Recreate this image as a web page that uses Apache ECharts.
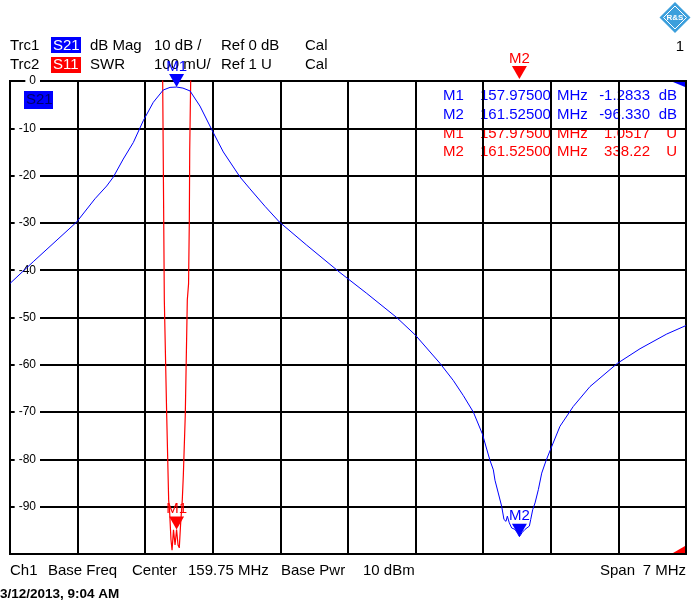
<!DOCTYPE html>
<html>
<head>
<meta charset="utf-8">
<title>Trc1 S21 / Trc2 S11</title>
<script src="https://cdn.jsdelivr.net/npm/echarts@6/dist/echarts.min.js"></script>
<style>
  html, body { margin: 0; padding: 0; background: #fff; }
  #chart { width: 693px; height: 611px; }
</style>
</head>
<body>
<div id="chart"></div>
<script>
var FONT = "'Liberation Sans', Arial, sans-serif";
var BLUE = '#0000ff';
var RED = '#ff0000';

// sweep
var centerMHz = 159.75;
var spanMHz = 7;
var startMHz = centerMHz - spanMHz / 2;

// Trc1  S21  dB Mag
var s21Freq = [156.250, 156.491, 156.716, 156.941, 157.130, 157.251, 157.320, 157.423, 157.527, 157.630,
               157.734, 157.837, 157.907, 157.975, 158.041, 158.114, 158.217, 158.342, 158.459, 158.632,
               158.735, 158.891, 159.039, 159.322, 159.667, 159.944, 160.254, 160.447, 160.703, 160.840,
               160.944, 161.048, 161.141, 161.220, 161.255, 161.272, 161.306, 161.341, 161.365, 161.386,
               161.400, 161.420, 161.445, 161.479, 161.505, 161.525, 161.552, 161.583, 161.628, 161.642,
               161.663, 161.687, 161.721, 161.756, 161.800, 161.845, 161.945, 162.083, 162.256, 162.539,
               162.774, 163.050, 163.250];
var s21Db = [-42.8, -38.2, -34.0, -29.8, -24.9, -22.2, -20.3, -16.5, -13.0, -8.4,
             -4.5, -1.9, -1.35, -1.28, -1.5, -2.1, -5.3, -10.4, -15.0, -20.3,
             -22.8, -26.5, -29.8, -34.7, -40.5, -44.9, -50.0, -53.7, -59.7, -63.3,
             -66.5, -70.0, -74.6, -80.2, -82.2, -84.4, -87.1, -89.9, -92.7, -93.1,
             -92.0, -93.4, -94.5, -94.8, -95.6, -96.33, -95.5, -94.8, -94.1, -92.7,
             -90.6, -89.2, -86.4, -82.9, -80.3, -78.0, -73.0, -68.8, -64.6, -59.7,
             -56.6, -53.5, -51.7];

// Trc2  S11  SWR
var s11Freq = [156.250, 156.900, 157.500, 157.780, 157.831, 157.848, 157.873, 157.893, 157.902, 157.917,
               157.928, 157.943, 157.959, 157.975, 157.990, 158.003, 158.016, 158.034, 158.045, 158.065,
               158.086, 158.099, 158.107, 158.111, 158.121, 158.170, 158.600, 159.500, 160.500, 161.525,
               162.500, 163.250];
var s11Swr = [95, 40, 9, 3.6, 2.0, 1.537, 1.290, 1.114, 1.093, 1.030,
              1.008, 1.051, 1.019, 1.0517, 1.019, 1.013, 1.061, 1.114, 1.167, 1.294,
              1.537, 1.571, 1.706, 1.854, 2.0, 3.6, 30, 150, 260, 338.22,
              280, 200];

// markers
var markerNames = ['M1', 'M2'];
var markerFreq = [157.975, 161.525];
var markerS21 = [-1.2833, -96.330];
var markerS11 = [1.0517, 338.22];

// scales
var dbMin = -100, dbMax = 0, dbStep = 10;
var swrMin = 1, swrMax = 2;

function kHz(f) { return Math.round((f - startMHz) * 1e6) / 1e3; }

function pairs(fs, vs) {
  return fs.map(function (f, i) { return [kHz(f), vs[i]]; });
}

function markers(values, color, top) {
  return {
    symbol: 'path://M0,0L16,0L8,14Z',
    symbolSize: [15, 13],
    label: { show: true, position: 'top', distance: 0, color: color, fontSize: 15, fontFamily: FONT, formatter: '{b}' },
    itemStyle: { color: color },
    data: markerNames.map(function (n, i) {
      var off = values[i] > top ? -8.5 : -6.5;
      return { name: n, coord: [kHz(markerFreq[i]), Math.min(values[i], top)], symbolOffset: [0, off] };
    })
  };
}

function txt(x, y, s, color, size, align, weight) {
  return {
    type: 'text', z: -1,
    style: {
      x: x, y: y, text: s, fill: color,
      font: (weight || 'normal') + ' ' + size + 'px ' + FONT,
      align: align || 'left', verticalAlign: 'middle',
      textAlign: align || 'left', textVerticalAlign: 'middle'
    }
  };
}
function box(x, y, w, h, color) {
  return { type: 'rect', z: -2, shape: { x: x, y: y, width: w, height: h }, style: { fill: color } };
}
function tri(points, color) {
  return { type: 'polygon', z: 5, shape: { points: points }, style: { fill: color } };
}

// marker table text
var tableRows = [];
markerNames.forEach(function (n, i) {
  tableRows.push([n, markerFreq[i].toFixed(5), markerS21[i].toPrecision(5), 'dB', BLUE]);
});
markerNames.forEach(function (n, i) {
  tableRows.push([n, markerFreq[i].toFixed(5), markerS11[i].toPrecision(5), 'U', RED]);
});
var tableY = [96, 114.5, 133.5, 152];

var graphics = [
  // header
  txt(10, 46, 'Trc1', '#000', 15), box(51, 37, 30, 16, BLUE), txt(53, 46, 'S21', '#fff', 15),
  txt(90, 46, 'dB Mag', '#000', 15), txt(154, 46, '10 dB /', '#000', 15),
  txt(221, 46, 'Ref 0 dB', '#000', 15), txt(305, 46, 'Cal', '#000', 15),
  txt(10, 65, 'Trc2', '#000', 15), box(51, 57, 30, 16, RED), txt(53, 65, 'S11', '#fff', 15),
  txt(90, 65, 'SWR', '#000', 15), txt(154, 65, '100 mU/', '#000', 15),
  txt(221, 65, 'Ref 1 U', '#000', 15), txt(305, 65, 'Cal', '#000', 15),
  txt(684, 47, '1', '#000', 15, 'right'),
  // logo
  { type: 'polygon', z: 5, shape: { points: [[675, 2], [690.5, 17.5], [675, 33], [659.5, 17.5]] }, style: { fill: '#3c9fdc' } },
  { type: 'polygon', z: 5, shape: { points: [[675, 6], [686.5, 17.5], [675, 29], [663.5, 17.5]] }, style: { fill: 'none', stroke: '#fff', lineWidth: 1 } },
  { type: 'text', z: 6, style: { x: 675, y: 18, text: 'R&S', fill: '#fff', font: 'bold 8px ' + FONT, align: 'center', verticalAlign: 'middle', textAlign: 'center', textVerticalAlign: 'middle' } },
  // trace label in grid
  box(24, 91, 29, 18, BLUE), txt(26, 100, 'S21', '#00006a', 15),
  // corner indicators
  tri([[673, 82], [685, 82], [685, 87]], BLUE),
  tri([[673, 553], [685, 553], [685, 546]], RED),
  // footer
  txt(10, 571, 'Ch1', '#000', 15), txt(48, 571, 'Base Freq', '#000', 15),
  txt(132, 571, 'Center', '#000', 15), txt(188, 571, centerMHz.toFixed(2) + ' MHz', '#000', 15),
  txt(281, 571, 'Base Pwr', '#000', 15), txt(363, 571, '10 dBm', '#000', 15),
  txt(600, 571, 'Span', '#000', 15), txt(686, 571, spanMHz + ' MHz', '#000', 15, 'right'),
  txt(0, 594, '3/12/2013, 9:04 AM', '#000', 13.5, 'left', 'bold')
];
tableRows.forEach(function (r, i) {
  var y = tableY[i];
  graphics.push(txt(443, y, r[0], r[4], 15));
  graphics.push(txt(480, y, r[1], r[4], 15));
  graphics.push(txt(557, y, 'MHz', r[4], 15));
  graphics.push(txt(650, y, r[2], r[4], 15, 'right'));
  graphics.push(txt(677, y, r[3], r[4], 15, 'right'));
});

var chart = echarts.init(document.getElementById('chart'));
chart.setOption({
  animation: false,
  backgroundColor: '#fff',
  grid: { left: 10, right: 7, top: 81, bottom: 57, show: true, borderColor: '#000', borderWidth: 2 },
  xAxis: {
    type: 'value', min: 0, max: spanMHz * 1000, interval: spanMHz * 100,
    axisLine: { show: false }, axisTick: { show: false }, axisLabel: { show: false },
    splitLine: { show: true, lineStyle: { color: '#000', width: 2 } }
  },
  yAxis: [{
    type: 'value', min: dbMin, max: dbMax, interval: dbStep, position: 'left',
    axisLine: { show: false }, axisTick: { show: false }, axisLabel: { show: false },
    splitLine: { show: true, lineStyle: { color: '#000', width: 2 } }
  }, {
    type: 'value', min: swrMin, max: swrMax, position: 'right', show: false,
    splitLine: { show: false }
  }, {
    // labels only, drawn above the grid lines
    type: 'value', min: dbMin, max: dbMax, interval: dbStep, position: 'left', z: 1,
    axisLine: { show: false }, axisTick: { show: false }, splitLine: { show: false },
    axisLabel: {
      inside: true, align: 'right', margin: 30, showMinLabel: false,
      color: '#000', fontSize: 12, fontFamily: FONT,
      backgroundColor: '#fff', padding: [1, 4, 1, 4]
    }
  }],
  graphic: { elements: graphics },
  series: [{
    name: 'S11', type: 'line', yAxisIndex: 1, data: pairs(s11Freq, s11Swr),
    symbol: 'none', clip: true, z: 3,
    lineStyle: { color: RED, width: 1.2 },
    markPoint: markers(markerS11, RED, swrMax)
  }, {
    name: 'S21', type: 'line', yAxisIndex: 0, data: pairs(s21Freq, s21Db),
    symbol: 'none', clip: true, z: 4,
    lineStyle: { color: BLUE, width: 1 },
    markPoint: markers(markerS21, BLUE, dbMax)
  }]
});
</script>
</body>
</html>
